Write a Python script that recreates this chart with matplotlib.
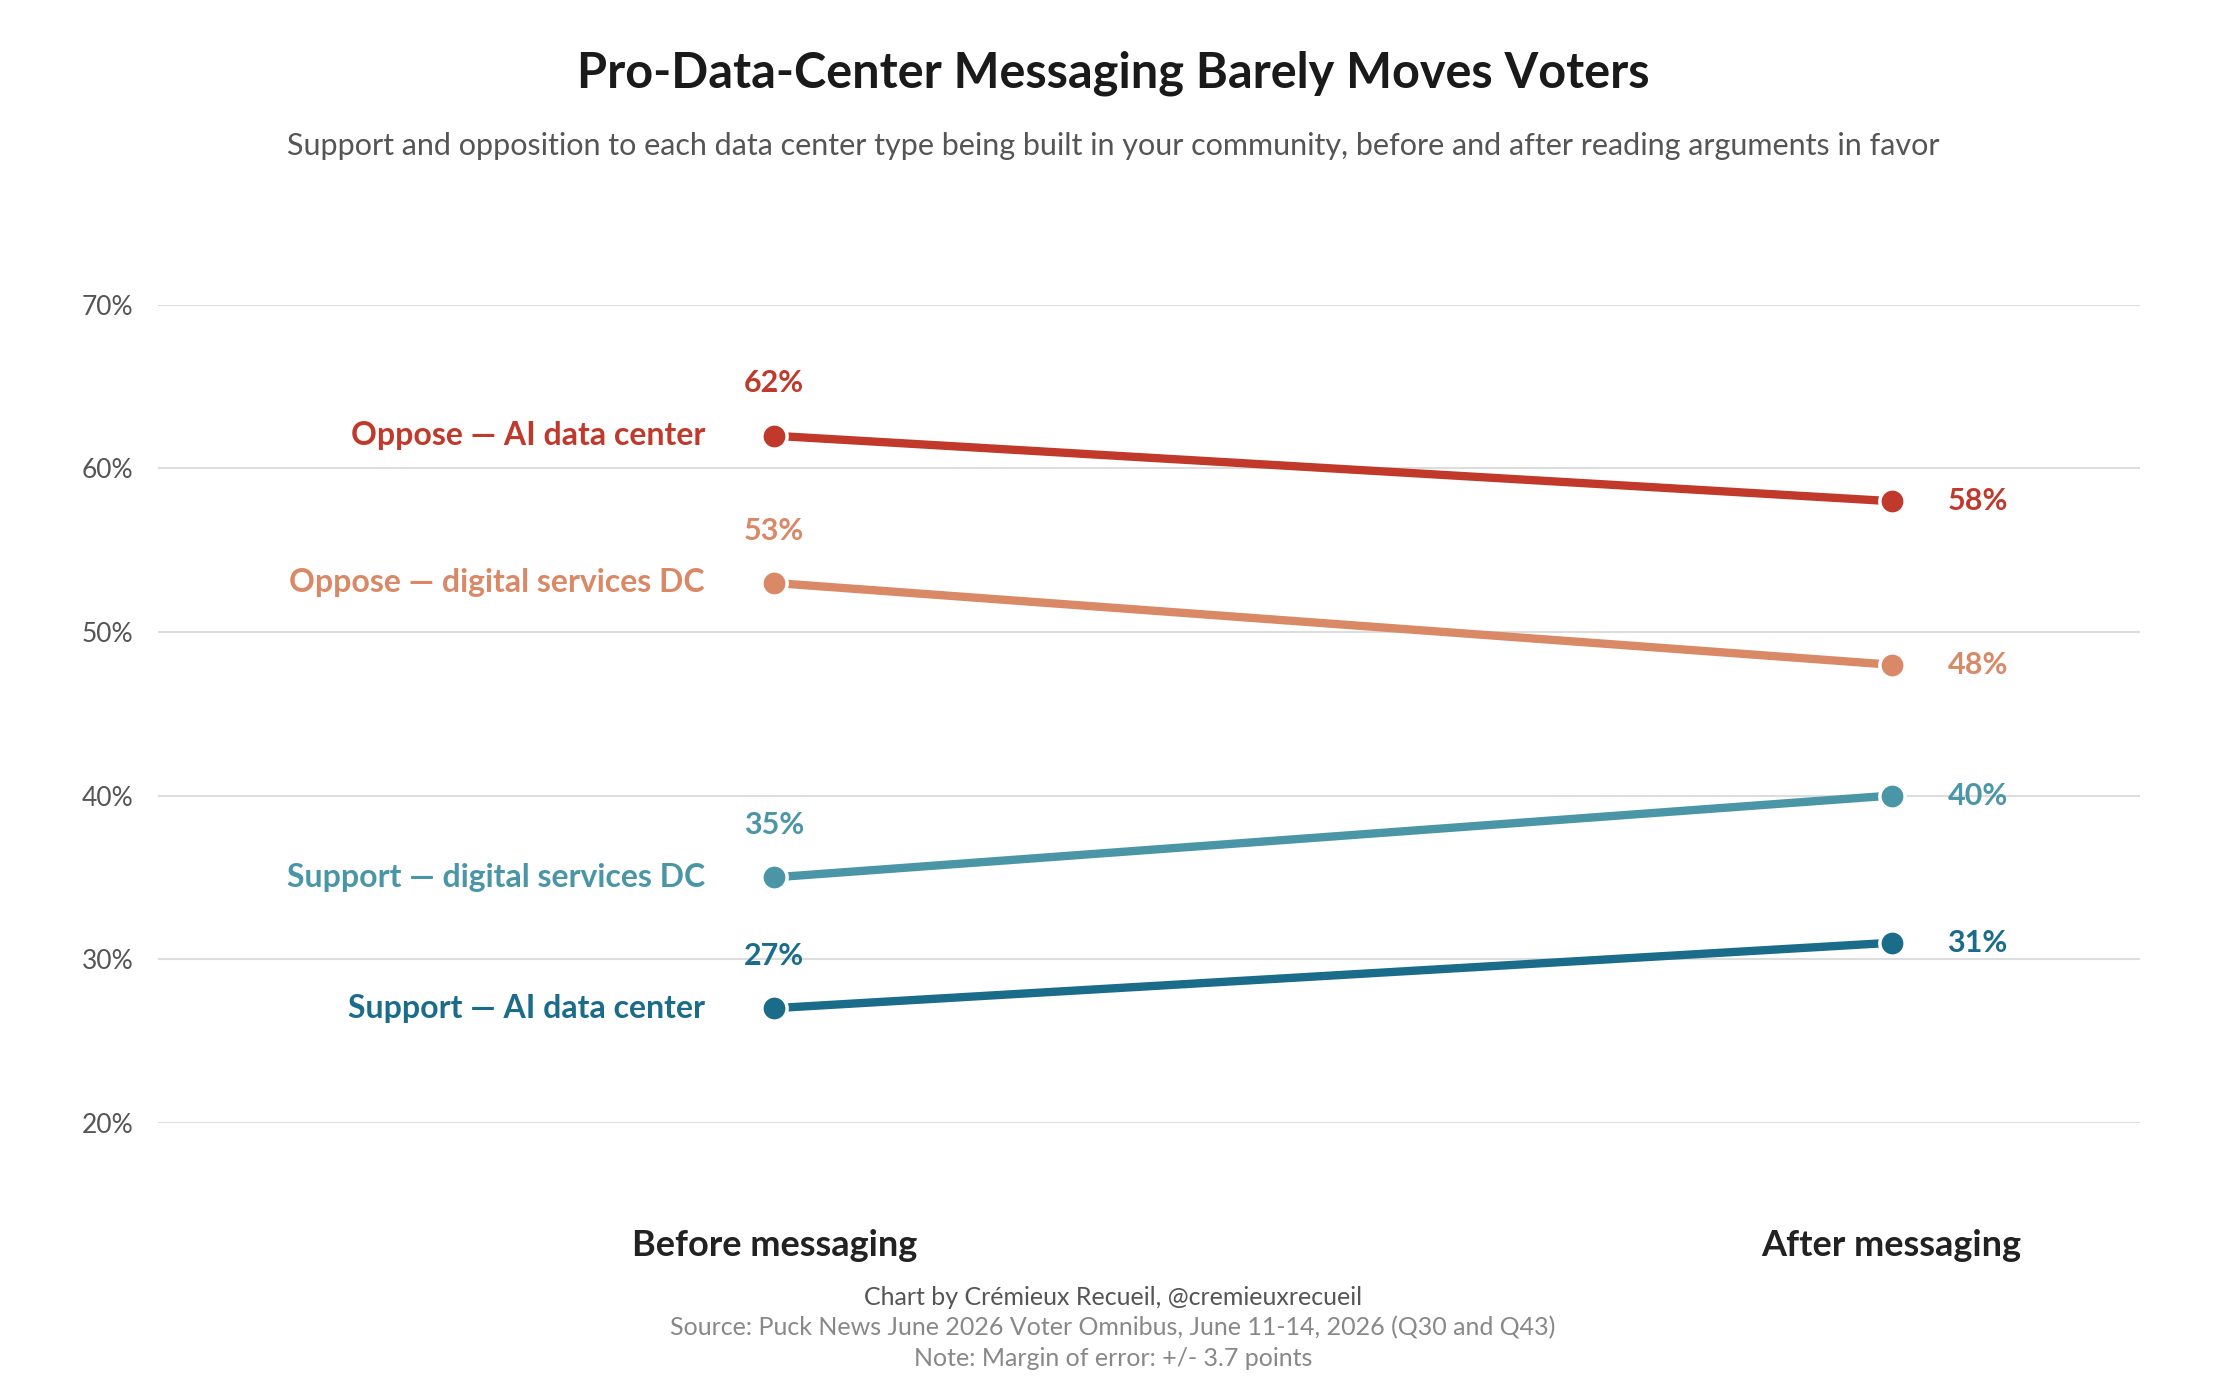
import matplotlib
matplotlib.use('Agg')
import matplotlib.pyplot as plt

plt.rcParams['font.family'] = ['Lato', 'DejaVu Sans']

stages = ['Before messaging', 'After messaging']
series_names = ['Oppose — AI data center', 'Oppose — digital services DC',
                'Support — digital services DC', 'Support — AI data center']
before = [62, 53, 35, 27]
after = [58, 48, 40, 31]
colors = ['#C0392B', '#D98966', '#4A96A7', '#1B6C8A']
yticks = [20, 30, 40, 50, 60, 70]

fig = plt.figure(figsize=(22.26, 13.86), dpi=100)
ax = fig.add_axes([0.0712, 0.19, 0.89, 0.59])
ax.set_xlim(-0.551, 1.222)
ax.set_ylim(20, 70)

for name, b, a, c in zip(series_names, before, after, colors):
    ax.plot([0, 1], [b, a], color=c, lw=6, solid_capstyle='round', zorder=3)
    ax.scatter([0, 1], [b, a], s=330, color=c, edgecolor='white', linewidth=2.5, zorder=4, clip_on=False)
    ax.text(-0.062, b, name, color=c, fontsize=23, fontweight='bold', ha='right', va='center')
    ax.text(0, b + 3.2, f'{b}%', color=c, fontsize=22, fontweight='bold', ha='center', va='center')
    ax.text(1.05, a, f'{a}%', color=c, fontsize=22, fontweight='bold', ha='left', va='center')

ax.set_yticks(yticks)
ax.set_yticklabels([f'{t}%' for t in yticks], fontsize=19, color='#555555')
ax.yaxis.grid(True, color='#dddddd', lw=1.5)
ax.set_xticks([])
ax.tick_params(axis='y', length=0, pad=18)
for s in ax.spines.values():
    s.set_visible(False)
ax.set_axisbelow(True)

for i, st in enumerate(stages):
    ax.text(i, 12.5, st, fontsize=26, fontweight='bold', color='#222222', ha='center', va='center', clip_on=False)

fig.text(0.5, 0.947, 'Pro-Data-Center Messaging Barely Moves Voters', fontsize=35,
         fontweight='bold', color='#1a1a1a', ha='center', va='center')
fig.text(0.5, 0.895, 'Support and opposition to each data center type being built in your community, before and after reading arguments in favor',
         fontsize=22, color='#555555', ha='center', va='center')
fig.text(0.5, 0.064, 'Chart by Crémieux Recueil, @cremieuxrecueil', fontsize=18, color='#555555', ha='center', va='center')
fig.text(0.5, 0.042, 'Source: Puck News June 2026 Voter Omnibus, June 11-14, 2026 (Q30 and Q43)', fontsize=18, color='#888888', ha='center', va='center')
fig.text(0.5, 0.020, 'Note: Margin of error: +/- 3.7 points', fontsize=18, color='#888888', ha='center', va='center')

fig.savefig('out.png', dpi=100, facecolor='white')
